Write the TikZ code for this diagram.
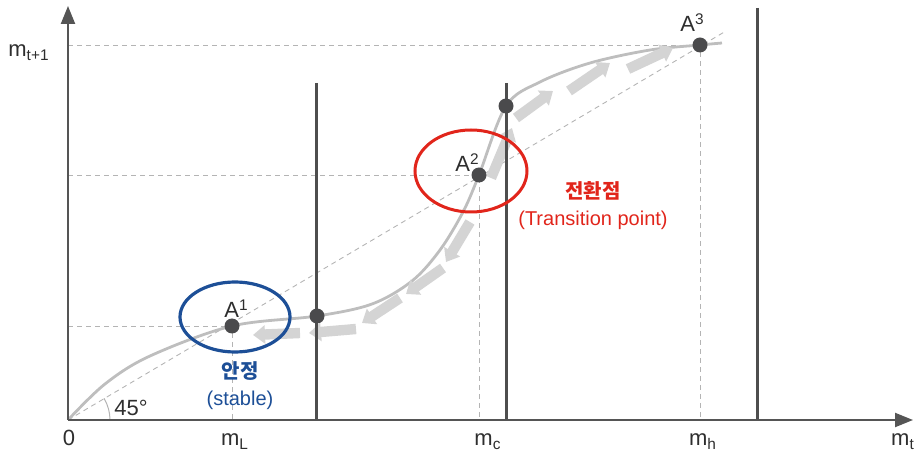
\documentclass[tikz,border=0pt]{standalone}
\usepackage{fontspec}
\setmainfont{Liberation Sans}
\newfontfamily\krfont{Noto Sans CJK KR}
\usetikzlibrary{arrows.meta}
\definecolor{axisc}{HTML}{555555}
\definecolor{wallc}{HTML}{4E4E4E}
\definecolor{curvec}{HTML}{BEBEBE}
\definecolor{guidec}{HTML}{B4B4B4}
\definecolor{flowc}{HTML}{D4D4D4}
\definecolor{dotc}{HTML}{4A4A4C}
\definecolor{labelc}{HTML}{2E2E2E}
\definecolor{stableblue}{HTML}{1D4F97}
\definecolor{pointred}{HTML}{E1251B}
\newcommand{\AxisF}{\fontsize{11}{13}\selectfont}
\newcommand{\NoteF}{\fontsize{10}{13.5}\selectfont}

\begin{document}
\begin{tikzpicture}[x=0.5pt, y=-0.5pt,
    axis/.style={draw=axisc, line width=1.1pt, -{Triangle[length=9pt, width=7pt]}},
    wall/.style={draw=wallc, line width=1.5pt},
    guide/.style={draw=guidec, line width=0.45pt, dash pattern=on 2.5pt off 2pt},
    curve/.style={draw=curvec, line width=1.4pt},
    flow/.style={draw=flowc, line width=5.2pt, -{Triangle[length=6pt, width=9pt]}},
    eqdot/.style={circle, fill=dotc, inner sep=0pt, minimum size=7.5pt},
    ticklab/.style={text=labelc, font=\AxisF, anchor=base, inner sep=0pt},
    ptlab/.style={text=labelc, font=\AxisF, anchor=base west, inner sep=0pt},
    note/.style={font=\NoteF, align=center, inner sep=0pt}]
  \useasboundingbox (0,0) rectangle (917,454);

  \coordinate (O) at (68,420);
  \coordinate (p1) at (232,326);
  \coordinate (q1) at (317,316);
  \coordinate (p2) at (479,175);
  \coordinate (q2) at (506,106);
  \coordinate (p3) at (700,45);
  \coordinate (diagend) at (726,31);

  \draw[guide] (O |- p1) -- (p1) -- (p1 |- O);
  \draw[guide] (O |- p2) -- (p2) -- (p2 |- O);
  \draw[guide] (O |- p3) -- (p3) -- (p3 |- O);
  \draw[guide] (O) -- (diagend);
  \draw[guidec, line width=0.5pt] ([xshift=21pt]O) arc[start angle=0, end angle=-31, radius=42];

  \draw[curve] plot[smooth, tension=0.55] coordinates {(68,420) (105,384) (150,356) (232,326)
    (317,316) (372,304) (412,281) (440,250) (463,212) (479,175) (506,106) (540,82) (590,63)
    (650,50) (700,45) (722,43)};

  \foreach \xa/\ya/\xb/\yb in {491/178/512/128, 516/118/553/91, 569/91/610/63, 628/69/673/48,
      470/222/446/262, 443/268/406/294, 400/298/362/323, 356/329/309/333, 300/333/253/335}
    \draw[flow] (\xa,\ya) -- (\xb,\yb);

  \coordinate (wL) at (316,83);
  \coordinate (wC) at (506,83);
  \coordinate (wH) at (757,8);
  \draw[wall] (wL) -- (wL |- O);
  \draw[wall] (wC) -- (wC |- O);
  \draw[wall] (wH) -- (wH |- O);

  \draw[axis] (O) -- (913,420);
  \draw[axis] (O) -- (68,6);

  \draw[stableblue, line width=1.6pt] (235,317) ellipse [x radius=55, y radius=35];
  \draw[pointred, line width=1.5pt] (471,171) ellipse [x radius=56, y radius=41];

  \node[eqdot] (A1) at (p1) {};
  \node[eqdot] (B1) at (q1) {};
  \node[eqdot] (A2) at (p2) {};
  \node[eqdot] (B2) at (q2) {};
  \node[eqdot] (A3) at (p3) {};

  \node[ptlab] (A1lab) at (224,318) {A\textsuperscript{1}};
  \node[ptlab] (A2lab) at (455,172) {A\textsuperscript{2}};
  \node[ptlab] (A3lab) at (680,32) {A\textsuperscript{3}};

  \node[note, text=stableblue] (stablelab) at (240,386) {{\krfont\bfseries 안정}\\(stable)};
  \node[note, text=pointred] (turnlab) at (593,206) {{\krfont\bfseries 전환점}\\(Transition point)};

  \node[ticklab] (zero) at (69,446) {0};
  \node[ticklab] (mL) at (235,446) {m\textsubscript{L}};
  \node[ticklab] (mc) at (488,446) {m\textsubscript{c}};
  \node[ticklab] (mh) at (703,446) {m\textsubscript{h}};
  \node[ticklab] (mt) at (903,446) {m\textsubscript{t}};
  \node[ptlab] (mnext) at (8,57) {m\textsubscript{t+1}};
  \node[ptlab] (angle) at (114,416) {45°};
\end{tikzpicture}
\end{document}
